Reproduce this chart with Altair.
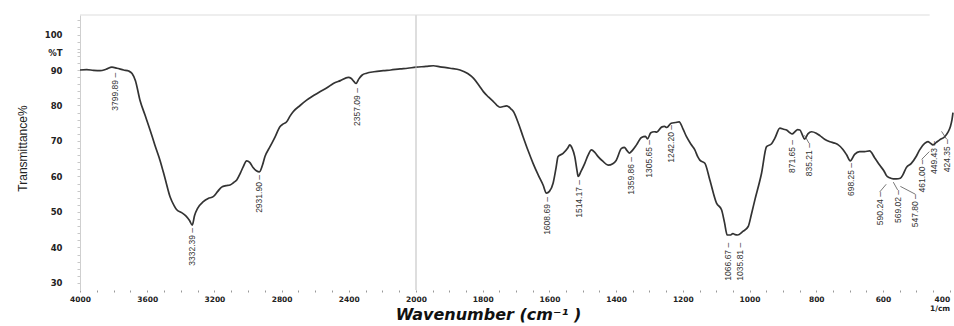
import altair as alt
import pandas as pd

# ---- spectrum (wavenumber in cm-1, transmittance in %) ----
wavenumber = [4000, 3960, 3920, 3880, 3845, 3810, 3780, 3740, 3710, 3690, 3670, 3643, 3613, 3583,
              3554, 3524, 3494, 3464, 3440, 3424, 3395, 3370, 3348, 3332, 3318, 3300, 3266, 3237,
              3207, 3180, 3157, 3130, 3107, 3085, 3067, 3045, 3028, 3008, 2990, 2970, 2950, 2932,
              2915, 2899, 2869, 2840, 2810, 2790, 2770, 2750, 2730, 2690, 2651, 2610, 2572, 2530,
              2492, 2450, 2403, 2385, 2370, 2357, 2340, 2320, 2294, 2250, 2195, 2150, 2095, 2050,
              2000, 1970, 1948, 1928, 1898, 1868, 1845, 1828, 1810, 1798, 1783, 1768, 1748, 1728,
              1715, 1708, 1695, 1679, 1664, 1649, 1634, 1619, 1609, 1600, 1589, 1580, 1574, 1559,
              1545, 1539, 1532, 1524, 1517, 1514, 1505, 1494, 1484, 1474, 1464, 1454, 1440, 1424,
              1410, 1400, 1384, 1375, 1369, 1360, 1350, 1339, 1324, 1312, 1306, 1296, 1286, 1278,
              1264, 1255, 1248, 1235, 1222, 1211, 1200, 1189, 1175, 1164, 1155, 1149, 1134, 1119,
              1099, 1084, 1075, 1067, 1058, 1050, 1043, 1036, 1020, 1004, 994, 984, 964, 949,
              934, 924, 909, 898, 889, 880, 872, 864, 856, 849, 842, 835, 825, 814,
              800, 789, 775, 759, 745, 734, 720, 709, 698, 685, 670, 655, 640, 625,
              610, 596, 590, 580, 569, 560, 548, 540, 530, 515, 500, 490, 475, 465,
              458, 450, 440, 430, 415, 405, 398, 393, 390]
transmittance = [90.0, 90.1, 89.9, 89.8, 90.2, 90.8, 90.5, 90.0, 89.7, 89.0, 87.0, 81.5, 77.3, 73.1,
                 68.8, 64.6, 59.5, 54.3, 51.8, 50.6, 49.8, 48.9, 47.6, 46.3, 49.0, 51.0, 52.9, 53.8,
                 54.3, 55.8, 57.0, 57.4, 57.6, 58.3, 59.0, 61.0, 62.8, 64.4, 64.0, 62.5, 61.6, 61.3,
                 63.0, 65.6, 68.4, 71.0, 74.0, 74.8, 75.4, 77.0, 78.3, 80.0, 81.5, 82.8, 83.9, 85.0,
                 86.2, 87.0, 87.9, 87.6, 86.8, 86.2, 87.5, 88.6, 89.1, 89.5, 89.8, 90.0, 90.3, 90.5,
                 90.8, 91.0, 91.2, 90.9, 90.5, 90.0, 89.0, 87.7, 85.5, 83.9, 82.4, 81.1, 79.5, 79.9,
                 79.0, 78.3, 75.5, 71.2, 67.3, 63.7, 60.5, 57.6, 55.3, 55.8, 58.1, 62.5, 65.6, 66.5,
                 68.0, 68.9, 68.0, 65.6, 61.5, 60.0, 61.5, 63.7, 66.0, 67.5, 66.8, 65.6, 64.3, 63.2,
                 63.6, 64.5, 67.9, 68.2, 67.5, 66.6, 67.5, 68.9, 71.0, 71.3, 70.6, 72.3, 72.6, 72.5,
                 73.9, 74.1, 73.8, 75.0, 75.2, 75.4, 73.5, 71.2, 69.0, 67.5, 65.5, 64.6, 63.7, 59.0,
                 52.5, 50.6, 47.0, 43.5, 43.5, 43.9, 43.6, 43.5, 44.5, 45.9, 49.5, 53.4, 60.9, 68.4,
                 69.2, 70.8, 73.6, 73.3, 73.1, 72.4, 72.0, 72.6, 73.2, 73.1, 71.8, 70.5, 72.0, 72.6,
                 72.2, 71.5, 70.5, 69.8, 69.4, 68.9, 67.6, 66.1, 64.4, 66.2, 67.0, 67.0, 67.2, 65.3,
                 63.2, 61.4, 60.3, 59.6, 59.3, 59.3, 59.5, 60.5, 62.5, 63.7, 65.7, 67.5, 69.3, 69.8,
                 69.4, 68.9, 69.6, 70.3, 71.2, 72.5, 74.0, 76.0, 78.0]

# ---- peak annotations ----
peak_text = ["3799.89", "3332.39", "2931.90", "2357.09", "1608.69", "1514.17", "1359.86",
             "1305.65", "1242.20", "1066.67", "1035.81", "871.65", "835.21", "698.25",
             "590.24", "569.02", "547.80", "461.00", "449.43", "424.35"]
peak_wn = [3799.89, 3332.39, 2931.90, 2357.09, 1608.69, 1514.17, 1359.86, 1305.65, 1242.20,
           1066.67, 1035.81, 871.65, 835.21, 698.25, 590.24, 569.02, 547.80, 461.00, 449.43, 424.35]
label_wn = [3790, 3332, 2935, 2352, 1606, 1510, 1355, 1300, 1234, 1066, 1030, 873, 822, 696,
            610, 556, 503, 484, 448, 409]
label_top = [89.2, 45.5, 60.4, 84.9, 54.2, 59.0, 65.5, 70.3, 74.5, 41.3, 41.3, 70.3, 69.4, 63.8,
             55.6, 56.2, 55.0, 64.8, 70.0, 70.5]

x_major = [4000, 3600, 3200, 2800, 2400, 2000, 1800, 1600, 1400, 1200, 1000, 800, 600, 400]
y_major = [30, 40, 50, 60, 70, 80, 90, 100]

spec = pd.DataFrame({"wn": wavenumber, "T": transmittance})
peaks = pd.DataFrame({"wn": peak_wn, "lx": label_wn, "ly": label_top,
                      "text": [t + " \u2013" for t in peak_text]})
leaders = peaks[(peaks["wn"] - peaks["lx"]).abs() > 10].copy()
leaders["ly2"] = leaders["ly"] + 2.2

x_ticks = list(range(4000, 2000, -100)) + list(range(2000, 399, -50))
y_ticks = sorted(set(list(range(30, 105, 2)) + [95]))

xs = alt.Scale(domain=[4000, 2000, 390], range=[0, 336, 873], nice=False, zero=False)
ys = alt.Scale(domain=[28, 105.5], nice=False, zero=False)

x_major_js = "[" + ",".join(str(v) for v in x_major) + "]"
y_major_js = "[" + ",".join(str(v) for v in y_major) + "]"

x_axis = alt.Axis(
    values=x_ticks, format="d",
    labelExpr=f"indexof({x_major_js}, datum.value) >= 0 ? (datum.value == 400 ? ['400', '1/cm'] : datum.label) : ''",
    labelAlign={"condition": {"test": "datum.value == 400", "value": "right"}, "value": "center"},
    labelFont="DejaVu Sans", labelFontWeight="bold", labelFontSize=7.5, labelColor="#222",
    labelOverlap=False, labelFlush=False, labelPadding=3,
    tickSize=2, tickColor="#999", domain=False, grid=False,
    title="Wavenumber (cm\u207b\u00b9 )", titleFont="DejaVu Sans", titleFontStyle="italic",
    titleFontWeight="bold", titleFontSize=16, titleColor="#111",
    titleX=408, titleY=29, titleAlign="center", titleBaseline="alphabetic",
)
y_axis = alt.Axis(
    values=y_ticks, format="d",
    labelExpr=f"datum.value == 95 ? '%T' : (indexof({y_major_js}, datum.value) >= 0 ? datum.label : '')",
    labelFont="DejaVu Sans", labelFontWeight="bold", labelFontSize=8.5, labelColor="#222",
    labelOverlap=False, labelFlush=False, labelPadding=15,
    tickSize=3, tickColor="#c8c8c8", domainColor="#cfcfcf", grid=False,
    title="Transmittance%", titleFont="Liberation Sans",
    titleFontSize=12, titleFontWeight="normal", titleColor="#222",
    titleX=-58, titleY=133, titleAngle=270, titleAlign="center", titleBaseline="middle",
)

X = lambda f: alt.X(f, scale=xs, axis=x_axis)
Y = lambda f: alt.Y(f, scale=ys, axis=y_axis)

line = alt.Chart(spec).mark_line(color="#333", strokeWidth=1.7, interpolate="monotone").encode(
    x=X("wn:Q"), y=Y("T:Q"),
)

vline = alt.Chart(pd.DataFrame({"wn": [2000]})).mark_rule(color="#bdbdbd", strokeWidth=1).encode(
    x=X("wn:Q")
)

top_border = alt.Chart(pd.DataFrame({"wn": [4000], "b": [460]})).mark_rule(
    color="#dddddd", strokeWidth=1
).encode(x=X("wn:Q"), x2="b:Q", y=alt.value(0))

labels = alt.Chart(peaks).mark_text(
    angle=270, align="right", baseline="middle",
    font="Liberation Sans", fontSize=8.5, color="#333",
).encode(
    x=alt.X("lx:Q", scale=xs, axis=x_axis),
    y=alt.Y("ly:Q", scale=ys, axis=y_axis),
    text="text:N",
)

leader = alt.Chart(leaders).mark_rule(color="#555", strokeWidth=0.8).encode(
    x=X("wn:Q"),
    x2="lx:Q",
    y=Y("ly2:Q"),
    y2="ly:Q",
)

chart = alt.layer(line, vline, top_border, leader, labels).properties(
    width=873, height=275,
    padding={"left": 80, "top": 15, "right": 1, "bottom": 36},
    autosize=alt.AutoSizeParams(type="none"),
    background="white",
).configure_view(stroke=None)

chart.save("out.html", embed_options={"renderer": "svg", "actions": False})
